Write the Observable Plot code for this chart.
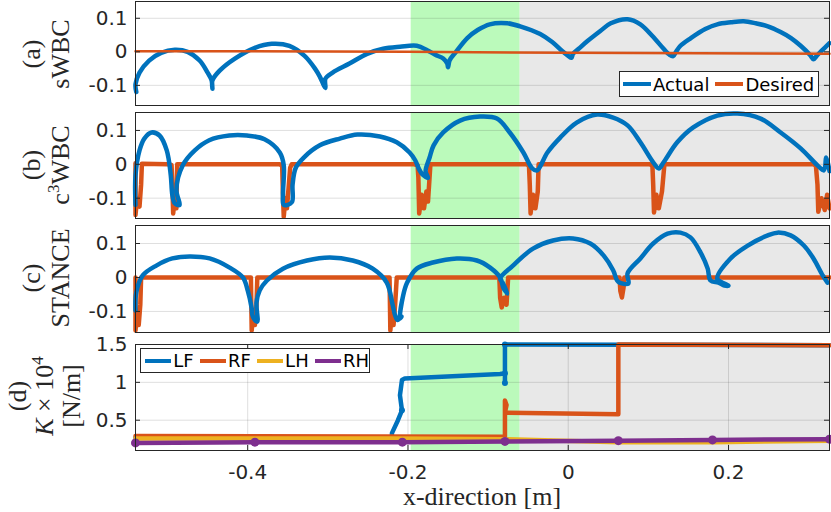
<!DOCTYPE html>
<html><head><meta charset="utf-8">
<script src="https://cdn.jsdelivr.net/npm/d3@7"></script>
<script src="https://cdn.jsdelivr.net/npm/@observablehq/plot@0.6"></script>
<style>
body{margin:0;background:#fff;}
#chart{position:relative;width:831px;height:512px;overflow:hidden;background:#fff;}
#chart svg{position:absolute;left:0;}
.ylab{position:absolute;transform:translate(-50%,-50%) rotate(-90deg);font-family:"Liberation Serif",serif;font-size:26px;line-height:29px;text-align:center;white-space:nowrap;color:#262626;}
.xlab{position:absolute;font-family:"Liberation Serif",serif;font-size:26px;line-height:24px;white-space:nowrap;color:#262626;transform:translateX(-50%);}
.legend{position:absolute;box-sizing:border-box;border:1px solid #262626;background:#fff;display:flex;align-items:center;font-family:"DejaVu Sans",sans-serif;font-size:18px;color:#000;}
.sw{display:inline-block;width:28px;height:4px;margin-right:2px;}
.lt{margin-right:6px;}
</style></head><body><div id="chart"></div>
<script>
// ---------- data ----------
const xDomain = [-0.54, 0.326];
const xTicks = [-0.4, -0.2, 0, 0.2];
const wbcTicks = [-0.1, 0, 0.1];
const kTicks = [0.5, 1, 1.5];
const adaptPhase = [[-0.196, -0.06]];
const afterPhase = [[-0.06, 0.326]];

const sWBC_actual = [[-0.539,-0.12],[-0.54,-0.097],[-0.535,-0.062],[-0.523,-0.026],[-0.508,-0.003],[-0.491,0.006],[-0.475,0.0],[-0.46,-0.026],[-0.45,-0.062],[-0.445,-0.085],[-0.444,-0.11],[-0.444,-0.085],[-0.435,-0.056],[-0.416,-0.02],[-0.391,0.012],[-0.37,0.024],[-0.348,0.018],[-0.329,-0.012],[-0.316,-0.05],[-0.31,-0.074],[-0.305,-0.1],[-0.303,-0.108],[-0.303,-0.08],[-0.294,-0.062],[-0.273,-0.035],[-0.251,-0.006],[-0.231,0.009],[-0.21,0.015],[-0.189,0.018],[-0.176,0.005],[-0.166,-0.009],[-0.156,-0.02],[-0.151,-0.035],[-0.15,-0.046],[-0.148,-0.025],[-0.141,-0.003],[-0.126,0.041],[-0.113,0.065],[-0.098,0.082],[-0.076,0.085],[-0.06,0.076],[-0.035,0.053],[-0.02,0.029],[-0.008,0.003],[0.0,-0.012],[0.004,-0.018],[0.006,-0.006],[0.013,0.009],[0.024,0.032],[0.04,0.062],[0.053,0.085],[0.074,0.097],[0.09,0.082],[0.105,0.047],[0.119,0.009],[0.126,-0.008],[0.131,-0.013],[0.134,-0.002],[0.14,0.018],[0.153,0.041],[0.171,0.068],[0.186,0.082],[0.203,0.088],[0.219,0.091],[0.234,0.085],[0.249,0.076],[0.265,0.059],[0.278,0.041],[0.29,0.018],[0.302,-0.01],[0.306,-0.022],[0.31,-0.012],[0.316,0.003],[0.32,0.012],[0.326,0.026]];
const sWBC_desired = [[-0.54,0.002],[-0.3,0.001],[-0.2,0.0],[0.0,-0.003],[0.326,-0.006]];

const c3WBC_actual = [[-0.54,-0.12],[-0.54,-0.032],[-0.535,0.041],[-0.529,0.076],[-0.52,0.094],[-0.51,0.085],[-0.501,0.041],[-0.496,-0.032],[-0.494,-0.091],[-0.491,-0.115],[-0.485,-0.12],[-0.489,-0.076],[-0.481,-0.003],[-0.466,0.041],[-0.448,0.071],[-0.423,0.085],[-0.401,0.085],[-0.379,0.074],[-0.36,0.035],[-0.355,-0.003],[-0.356,-0.091],[-0.355,-0.12],[-0.345,-0.112],[-0.344,-0.06],[-0.34,-0.01],[-0.33,0.02],[-0.31,0.056],[-0.285,0.076],[-0.263,0.088],[-0.235,0.082],[-0.214,0.065],[-0.198,0.035],[-0.191,0.012],[-0.186,-0.015],[-0.182,-0.03],[-0.175,-0.04],[-0.178,-0.02],[-0.173,0.02],[-0.168,0.056],[-0.156,0.094],[-0.135,0.129],[-0.11,0.141],[-0.089,0.135],[-0.073,0.094],[-0.056,0.035],[-0.045,-0.012],[-0.039,-0.018],[-0.026,0.035],[-0.01,0.079],[0.011,0.124],[0.036,0.147],[0.056,0.138],[0.074,0.115],[0.09,0.065],[0.106,0.006],[0.113,-0.012],[0.119,0.006],[0.136,0.065],[0.156,0.109],[0.186,0.144],[0.211,0.15],[0.24,0.135],[0.265,0.094],[0.29,0.047],[0.311,-0.003],[0.319,-0.018],[0.322,0.02],[0.326,-0.02]];
const c3WBC_desired = [[-0.54,0.003],[-0.54,-0.15],[-0.538,-0.1],[-0.535,-0.125],[-0.533,-0.06],[-0.532,0.002],[-0.5,0.0],[-0.495,-0.002],[-0.494,-0.06],[-0.493,-0.145],[-0.491,-0.1],[-0.489,-0.13],[-0.488,0.0],[-0.36,0.0],[-0.357,-0.004],[-0.356,-0.09],[-0.355,-0.155],[-0.353,-0.1],[-0.351,-0.13],[-0.349,-0.07],[-0.347,-0.01],[-0.345,0.0],[-0.192,0.0],[-0.188,-0.003],[-0.187,-0.04],[-0.186,-0.145],[-0.183,-0.09],[-0.18,-0.13],[-0.177,-0.08],[-0.175,-0.11],[-0.172,0.0],[-0.052,0.0],[-0.049,-0.003],[-0.048,-0.06],[-0.047,-0.145],[-0.044,-0.09],[-0.041,-0.13],[-0.038,-0.08],[-0.037,0.0],[0.102,0.0],[0.105,-0.003],[0.106,-0.06],[0.107,-0.142],[0.11,-0.09],[0.113,-0.13],[0.117,-0.08],[0.12,0.0],[0.306,0.0],[0.309,-0.003],[0.311,-0.06],[0.312,-0.14],[0.316,-0.1],[0.32,-0.135],[0.323,-0.09],[0.326,-0.13]];

const STANCE_actual = [[-0.54,-0.097],[-0.539,-0.044],[-0.531,0.006],[-0.514,0.035],[-0.494,0.056],[-0.4725,0.062],[-0.4475,0.056],[-0.4225,0.029],[-0.406,0.0],[-0.4,-0.038],[-0.395,-0.091],[-0.394,-0.112],[-0.391,-0.125],[-0.388,-0.13],[-0.389,-0.074],[-0.385,-0.038],[-0.376,-0.009],[-0.356,0.026],[-0.326,0.05],[-0.2975,0.059],[-0.269,0.05],[-0.244,0.026],[-0.2265,-0.015],[-0.219,-0.082],[-0.216,-0.112],[-0.213,-0.125],[-0.208,-0.115],[-0.21,-0.12],[-0.206,-0.053],[-0.201,-0.015],[-0.189,0.026],[-0.169,0.044],[-0.139,0.056],[-0.114,0.05],[-0.0975,0.029],[-0.085,0.0],[-0.081,-0.03],[-0.076,-0.047],[-0.082,-0.015],[-0.085,-0.003],[-0.069,0.035],[-0.044,0.085],[-0.019,0.109],[0.006,0.115],[0.0275,0.1],[0.044,0.065],[0.056,0.021],[0.061,-0.009],[0.064,-0.015],[0.075,-0.018],[0.074,0.012],[0.09,0.056],[0.106,0.1],[0.124,0.129],[0.14,0.132],[0.1525,0.118],[0.165,0.074],[0.174,0.026],[0.1775,-0.009],[0.1875,-0.015],[0.195,-0.024],[0.2,-0.024],[0.186,-0.003],[0.2025,0.056],[0.224,0.094],[0.249,0.124],[0.261,0.132],[0.2775,0.124],[0.294,0.094],[0.306,0.056],[0.3175,0.006],[0.3235,-0.015]];
const STANCE_desired = [[-0.54,0.0],[-0.54,-0.156],[-0.538,-0.1],[-0.536,-0.14],[-0.534,-0.08],[-0.533,0.0],[-0.396,0.0],[-0.395,-0.156],[-0.393,-0.1],[-0.391,-0.14],[-0.389,-0.08],[-0.388,0.0],[-0.223,0.0],[-0.222,-0.156],[-0.22,-0.1],[-0.218,-0.14],[-0.216,-0.08],[-0.214,0.0],[-0.086,0.0],[-0.085,-0.06],[-0.083,-0.088],[-0.08,-0.06],[-0.077,-0.08],[-0.075,0.0],[0.064,0.0],[0.065,-0.04],[0.067,-0.059],[0.069,-0.03],[0.07,0.0],[0.326,0.0]];

const K_LF = [[-0.54,0.27],[-0.22,0.27],[-0.22,0.33],[-0.2125,0.5],[-0.2075,0.63],[-0.21,0.83],[-0.2075,1.03],[-0.204,1.05],[-0.085,1.11],[-0.079,1.12],[-0.079,0.99],[-0.079,1.5],[0.326,1.49]];
const K_RF = [[-0.54,0.29],[-0.08,0.28],[-0.079,0.28],[-0.079,0.76],[-0.077,0.7],[-0.079,0.6],[0.0625,0.58],[0.0625,1.5],[0.326,1.49]];
const K_LH = [[-0.54,0.26],[-0.22,0.26],[-0.079,0.25],[0.0625,0.21],[0.18,0.21],[0.326,0.23]];
const K_RH = [[-0.54,0.2],[-0.391,0.21],[-0.207,0.21],[-0.079,0.22],[0.0625,0.23],[0.18,0.24],[0.326,0.25]];
const K_RH_steps = [[-0.54,0.2],[-0.391,0.21],[-0.207,0.21],[-0.079,0.22],[0.0625,0.23],[0.18,0.24],[0.326,0.25]];
const K_LF_steps = [[-0.2075,0.63],[-0.079,1.12],[-0.079,0.99],[-0.079,1.5]];

// ---------- drawing ----------
const C = {blue:"#0072BD", orange:"#D95319", yellow:"#EDB120", purple:"#7E2F8E"};
const fmt = d => String(d);
const chart = document.getElementById("chart");

function panel({top, height, mt, mb, yDomain, yTicks, series, dots = [], xAxis = false}) {
  const xs = (xDomain[1] - xDomain[0]) / (831 - 135 - 2) * 5;
  const ys = (yDomain[1] - yDomain[0]) / (height - mt - mb) * 5;
  const marks = [
    Plot.rect(adaptPhase, {x1: d => d[0], x2: d => d[1], fill: "#bbfabb"}),
    Plot.rect(afterPhase, {x1: d => d[0], x2: d => d[1], fill: "#e8e8e8"}),
    Plot.ruleY(yTicks, {stroke: "#262626", strokeOpacity: 0.15})
  ];
  if (xAxis) marks.push(Plot.ruleX(xTicks, {stroke: "#262626", strokeOpacity: 0.15}));
  for (const s of series) {
    marks.push(Plot.line(s.data, {x: d => d[0], y: d => d[1], stroke: s.color, strokeWidth: s.width,
      curve: s.curve || "linear", strokeLinejoin: "round", strokeLinecap: "round"}));
  }
  for (const dd of dots) {
    marks.push(Plot.dot(dd.data, {x: d => d[0], y: d => d[1], fill: dd.color, r: dd.r}));
  }
  marks.push(Plot.ruleY(yTicks, {x1: xDomain[0], x2: xDomain[0] + xs, stroke: "#262626"}));
  marks.push(Plot.ruleY(yTicks, {x1: xDomain[1] - xs, x2: xDomain[1], stroke: "#262626"}));
  if (xAxis) {
    marks.push(Plot.ruleX(xTicks, {y1: yDomain[0], y2: yDomain[0] + ys, stroke: "#262626"}));
    marks.push(Plot.ruleX(xTicks, {y1: yDomain[1] - ys, y2: yDomain[1], stroke: "#262626"}));
    marks.push(Plot.axisX({ticks: xTicks, tickSize: 0, tickPadding: 14, tickFormat: fmt, label: null}));
  }
  marks.push(Plot.frame({stroke: "#262626"}));
  marks.push(Plot.axisY({ticks: yTicks, tickSize: 0, tickPadding: 8, tickFormat: fmt, label: null}));
  const svg = Plot.plot({
    width: 831, height, marginLeft: 135, marginRight: 2, marginTop: mt, marginBottom: mb,
    x: xAxis ? {domain: xDomain} : {domain: xDomain, axis: null},
    y: {domain: yDomain},
    style: {fontFamily: "DejaVu Sans, sans-serif", fontSize: "20px", color: "#262626", background: "transparent", overflow: "visible"},
    marks
  });
  svg.style.top = top + "px";
  chart.appendChild(svg);
}

panel({top: 0, height: 107, mt: 1, mb: 2, yDomain: [-0.16, 0.15], yTicks: wbcTicks,
  series: [{data: sWBC_actual, color: C.blue, width: 4.5, curve: "catmull-rom"},
           {data: sWBC_desired, color: C.orange, width: 2.5}]});
panel({top: 108, height: 112, mt: 4, mb: 2, yDomain: [-0.16, 0.153], yTicks: wbcTicks,
  series: [{data: c3WBC_desired, color: C.orange, width: 4.5},
           {data: c3WBC_actual, color: C.blue, width: 4.5, curve: "catmull-rom"}]});
panel({top: 221, height: 113, mt: 4, mb: 2, yDomain: [-0.162, 0.153], yTicks: wbcTicks,
  series: [{data: STANCE_desired, color: C.orange, width: 4.5},
           {data: STANCE_actual, color: C.blue, width: 4.5, curve: "catmull-rom"}]});
panel({top: 335, height: 177, mt: 9, mb: 62, yDomain: [0.1, 1.5], yTicks: kTicks, xAxis: true,
  series: [{data: K_LF, color: C.blue, width: 4.5},
           {data: K_RF, color: C.orange, width: 4.5},
           {data: K_LH, color: C.yellow, width: 4.5},
           {data: K_RH, color: C.purple, width: 4.5}],
  dots: [{data: K_LF_steps, color: C.blue, r: 3}, {data: K_RH_steps, color: C.purple, r: 4.5}]});

// labels
function addHTML(html) { const w = document.createElement("div"); w.innerHTML = html; chart.appendChild(w.firstElementChild); }
addHTML('<div class="ylab" style="left:46px;top:54px">(a)<br>sWBC</div>');
addHTML('<div class="ylab" style="left:46px;top:165px">(b)<br>c<span style="font-size:17px;vertical-align:10px;line-height:0">3</span>WBC</div>');
addHTML('<div class="ylab" style="left:46px;top:278px">(c)<br>STANCE</div>');
addHTML('<div class="ylab" style="left:44px;top:396px;line-height:27px">(d)<br><i>K</i> × 10<span style="font-size:17px;vertical-align:10px;line-height:0">4</span><br>[N/m]</div>');
addHTML('<div class="xlab" style="left:482px;top:485px">x-direction [m]</div>');
addHTML('<div class="legend" style="left:619px;top:71px;width:200px;height:26px;padding-left:3px"><span class="sw" style="background:' + C.blue + '"></span><span class="lt">Actual</span><span class="sw" style="background:' + C.orange + '"></span><span>Desired</span></div>');
addHTML('<div class="legend" style="left:140px;top:348px;width:230px;height:25px;padding-left:4px"><span class="sw" style="background:' + C.blue + '"></span><span class="lt">LF</span><span class="sw" style="background:' + C.orange + '"></span><span class="lt">RF</span><span class="sw" style="background:' + C.yellow + '"></span><span class="lt">LH</span><span class="sw" style="background:' + C.purple + '"></span><span>RH</span></div>');
</script></body></html>
